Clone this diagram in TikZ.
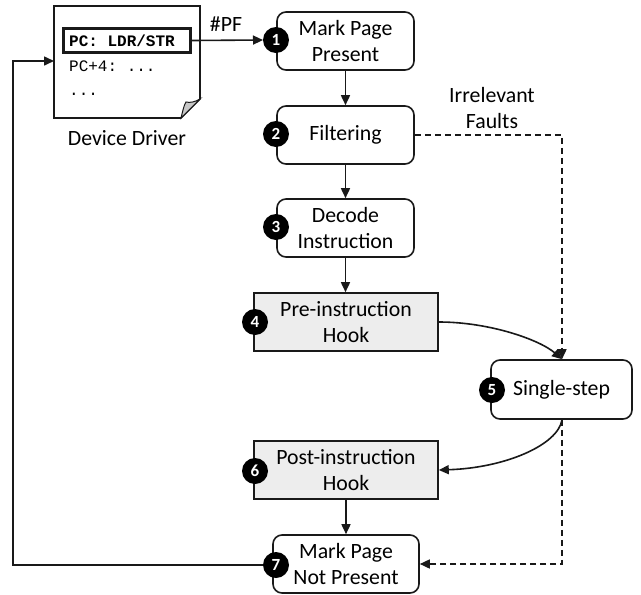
\documentclass[tikz,border=0pt]{standalone}
\usepackage{fontspec}
\setmainfont{Carlito}
\setmonofont{Liberation Mono}
\usetikzlibrary{arrows.meta,calc}
\tikzset{
  line/.style={line width=1.6pt,draw=black!90},
  conn/.style={line,-{Triangle[length=10pt,width=9pt]}},
  dashconn/.style={conn,dash pattern=on 6pt off 4pt},
  flowbox/.style={line,draw,rounded corners=9pt,fill=white,align=center,inner sep=0pt,font=\fontsize{21.8}{26.5}\selectfont},
  hookbox/.style={line,draw,fill=black!7,align=center,inner sep=0pt,font=\fontsize{21.8}{26.5}\selectfont},
  badge/.style={circle,fill=black,text=white,minimum size=26pt,inner sep=0pt,font=\fontsize{17}{17}\selectfont\bfseries},
  label/.style={inner sep=0pt,align=center,font=\fontsize{21.8}{26}\selectfont},
  code/.style={inner sep=0pt,anchor=base west,font=\fontsize{16}{16}\ttfamily}
}
\begin{document}
\begin{tikzpicture}[x=1pt,y=-1pt]
\useasboundingbox[fill=white] (0,0) rectangle (641,595);
\node[flowbox,minimum width=137pt,minimum height=58pt] (n1) at (345.5,41) {Mark Page\\Present};
\node[flowbox,minimum width=137pt,minimum height=58pt] (n2) at (345.5,135) {Filtering};
\node[flowbox,minimum width=137pt,minimum height=58pt] (n3) at (345.5,228) {Decode\\Instruction};
\node[hookbox,minimum width=184pt,minimum height=58pt] (n4) at (346,322) {Pre-instruction\\Hook};
\node[flowbox,minimum width=141pt,minimum height=59pt] (n5) at (561.5,389.5) {Single-step};
\node[hookbox,minimum width=184pt,minimum height=58pt] (n6) at (346,470) {Post-instruction\\Hook};
\node[flowbox,minimum width=146pt,minimum height=58pt] (n7) at (346,564) {Mark Page\\Not Present};
% document
\coordinate (docin) at (54,61);
\coordinate (looptop) at (13,61);
\draw[line,fill=white] (54,6) -- (200,6) -- (200,99) -- (181,118) -- (54,118) -- cycle;
\draw[line,line width=1pt,fill=black!22] (200,99) -- (181,118) .. controls (183,110) and (184,105) .. (186,102) .. controls (190,103) and (195,102) .. (200,99) -- cycle;
\node[line,draw,line width=3pt,minimum width=127pt,minimum height=24pt,inner sep=0pt] (pc) at (127,40.5) {};
\node[code,font=\fontsize{16}{16}\ttfamily\bfseries] (c1) at (69,46) {PC: LDR/STR};
\node[code] (c2) at (69,71) {PC+4: ...};
\node[code] (c3) at (69,95) {...};
\node[label] (dd) at (127,138) {Device Driver};
\node[label] (pf) at (226,24) {\#PF};
\node[label,text width=120pt] (irr) at (492,108) {Irrelevant\\Faults};
% connectors
\coordinate (b1) at (263,40);
\draw[conn] (pc.east) -- (b1);
\draw[conn] (n1) -- (n2);
\draw[conn] (n2) -- (n3);
\draw[conn] (n3.south) -- (n3.south |- n4.north);
\coordinate (dtop) at (562,135);
\draw[dashconn] (n2.east) -- (dtop) -- (dtop |- n5.north);
\draw[conn] (n4.east) .. controls (490,322) and (540,340) .. ($(dtop |- n5.north)$);
\draw[conn] ($(dtop |- n5.south)$) .. controls (558,445) and (505,468) .. (n6.east);
\draw[conn] (n6) -- (n7);
\draw[dashconn] ($(dtop |- n5.south)$) -- (dtop |- n7.east) -- (n7.east);
\node[badge] (k1) at (276,40) {1};
\node[badge] (k2) at (276,134) {2};
\node[badge] (k3) at (276,227) {3};
\node[badge] (k4) at (255,322) {4};
\node[badge] (k5) at (492,390) {5};
\node[badge] (k6) at (255,471) {6};
\node[badge] (k7) at (276,565) {7};
\draw[conn] (k7.west) -- (looptop |- k7.west) -- (looptop) -- (docin);
\end{tikzpicture}
\end{document}
